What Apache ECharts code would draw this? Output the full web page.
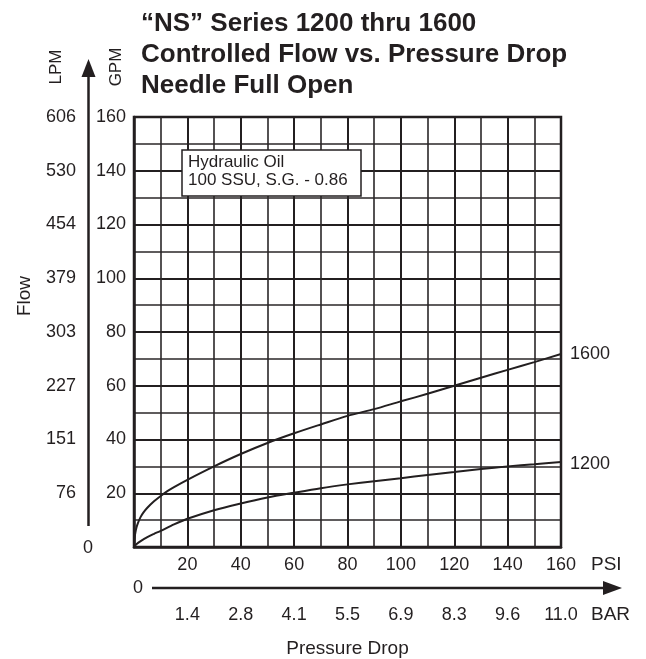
<!DOCTYPE html>
<html>
<head>
<meta charset="utf-8">
<script src="https://cdn.jsdelivr.net/npm/echarts@6/dist/echarts.min.js"></script>
<style>
html,body{margin:0;padding:0;background:#fff;}
#c{width:646px;height:659px;}
</style>
</head>
<body>
<div id="c"></div>
<script>
// ---- data ----
var psi1600 = [0, 0.25, 0.5, 1, 1.5, 2.5, 3.5, 5, 7.5, 10, 12.5, 15, 20, 30, 40, 50, 60, 70, 80, 90, 100, 110, 120, 130, 140, 150, 160];
var gpm1600 = [0, 3.5, 5.3, 7.5, 9, 11.2, 12.8, 14.6, 17, 19, 20.8, 22.3, 25, 30, 34.6, 38.7, 42.3, 45.6, 48.8, 51.3, 54.2, 57, 60, 63, 65.9, 68.8, 71.8];
var psi1200 = [0, 1, 2.5, 5, 7.5, 10, 15, 20, 30, 40, 50, 60, 70, 80, 90, 100, 110, 120, 130, 140, 150, 160];
var gpm1200 = [0, 1.1, 2.2, 3.7, 4.9, 6, 8.4, 10.5, 13.7, 16.2, 18.4, 20.2, 21.9, 23.3, 24.5, 25.6, 26.8, 27.9, 29, 30, 30.8, 31.6];
var psiTicks = [20, 40, 60, 80, 100, 120, 140, 160];
var barTicks = ['1.4', '2.8', '4.1', '5.5', '6.9', '8.3', '9.6', '11.0'];
var gpmTicks = [20, 40, 60, 80, 100, 120, 140, 160];
var lpmTicks = ['76', '151', '227', '303', '379', '454', '530', '606'];
var seriesNames = ['1600', '1200'];

function zip(xs, ys) { return xs.map(function (x, i) { return [x, ys[i]]; }); }

var FONT = 'Liberation Sans';
var INK = '#231f20';
var chart = echarts.init(document.getElementById('c'), null, {renderer: 'canvas'});

var gridLine = {color: INK, width: 2};
var minorLine = {color: '#2a2627', width: 1.6};
var labelFont = {fontFamily: FONT, fontSize: 18, color: INK};

function tickLabel(list) {
  return function (v) { var i = psiTicks.indexOf(v); return i < 0 ? '' : String(list[i]); };
}

chart.setOption({
  backgroundColor: '#fff',
  animation: false,
  title: {
    text: '“NS” Series 1200 thru 1600\nControlled Flow vs. Pressure Drop\nNeedle Full Open',
    left: 136, top: 3,
    textStyle: {fontFamily: FONT, fontSize: 26, fontWeight: 'bold', lineHeight: 31, color: INK}
  },
  grid: {left: 134, right: 85, top: 117, bottom: 112, containLabel: false, outerBoundsMode: 'none',
         show: true, borderColor: INK, borderWidth: 2.5, backgroundColor: 'transparent'},
  xAxis: [{
    // main PSI axis: grid lines and the axis title
    type: 'value', min: 0, max: 160, interval: 20,
    axisLine: {show: true, lineStyle: {color: INK, width: 2.5}},
    axisTick: {show: false},
    minorTick: {show: false, splitNumber: 2},
    splitLine: {show: true, lineStyle: gridLine},
    minorSplitLine: {show: true, lineStyle: minorLine},
    axisLabel: {show: false},
    name: 'Pressure Drop', nameLocation: 'middle', nameGap: 92, nameMoveOverlap: false,
    nameTextStyle: {fontFamily: FONT, fontSize: 19, color: INK}
  }, {
    // PSI tick labels row
    type: 'value', min: 0, max: 160, interval: 20, position: 'bottom', offset: 18,
    axisLine: {show: false}, axisTick: {show: false}, splitLine: {show: false},
    axisLabel: Object.assign({margin: 0, verticalAlign: 'middle', formatter: tickLabel(psiTicks)}, labelFont)
  }, {
    // BAR tick labels row
    type: 'value', min: 0, max: 160, interval: 20, position: 'bottom', offset: 68,
    axisLine: {show: false}, axisTick: {show: false}, splitLine: {show: false},
    axisLabel: Object.assign({margin: 0, verticalAlign: 'middle', formatter: tickLabel(barTicks)}, labelFont),
    name: 'BAR', nameLocation: 'end', nameGap: 30, nameMoveOverlap: false,
    nameTextStyle: {fontFamily: FONT, fontSize: 19, color: INK, verticalAlign: 'middle'}
  }],
  yAxis: [{
    type: 'value', min: 0, max: 160, interval: 20,
    axisLine: {show: true, lineStyle: {color: INK, width: 2.5}},
    axisTick: {show: false},
    minorTick: {show: false, splitNumber: 2},
    splitLine: {show: true, lineStyle: gridLine},
    minorSplitLine: {show: true, lineStyle: minorLine},
    axisLabel: Object.assign({margin: 8, formatter: function (v) { var i = gpmTicks.indexOf(v); return i < 0 ? '' : String(gpmTicks[i]); }}, labelFont)
  }, {
    type: 'value', min: 0, max: 160, interval: 20, position: 'left', offset: 46,
    axisLine: {show: false}, axisTick: {show: false}, splitLine: {show: false},
    axisLabel: Object.assign({margin: 12, formatter: function (v) { var i = gpmTicks.indexOf(v); return i < 0 ? '' : lpmTicks[i]; }}, labelFont)
  }],
  series: [{
    name: seriesNames[0], type: 'line', data: zip(psi1600, gpm1600),
    smooth: 0.3, showSymbol: false, symbol: 'none',
    lineStyle: {color: INK, width: 2}, z: 5,
    endLabel: {show: true, formatter: '{a}', distance: 9, fontFamily: FONT, fontSize: 18, color: INK}
  }, {
    name: seriesNames[1], type: 'line', data: zip(psi1200, gpm1200),
    smooth: 0.3, showSymbol: false, symbol: 'none',
    lineStyle: {color: INK, width: 2}, z: 5,
    endLabel: {show: true, formatter: '{a}', distance: 9, offset: [0, 2], fontFamily: FONT, fontSize: 18, color: INK}
  }],
  graphic: [
    // annotation box
    {type: 'rect', shape: {x: 182, y: 150, width: 179, height: 46}, style: {fill: '#fff', stroke: INK, lineWidth: 1.5}, z: 100},
    {type: 'text', x: 188, y: 153, style: {text: 'Hydraulic Oil\n100 SSU, S.G. - 0.86', fontFamily: FONT, fontSize: 17, lineHeight: 18, fill: INK}, z: 101},
    // LPM arrow axis
    {type: 'line', shape: {x1: 88.5, y1: 526, x2: 88.5, y2: 74}, style: {stroke: INK, lineWidth: 2.5}, z: 100},
    {type: 'polygon', shape: {points: [[81.5, 77], [95.5, 77], [88.5, 59]]}, style: {fill: INK}, z: 100},
    {type: 'text', x: 56, y: 67, rotation: Math.PI / 2, style: {text: 'LPM', fontFamily: FONT, fontSize: 17, fill: INK, align: 'center', verticalAlign: 'middle'}, z: 100},
    {type: 'text', x: 116, y: 67, rotation: Math.PI / 2, style: {text: 'GPM', fontFamily: FONT, fontSize: 17, fill: INK, align: 'center', verticalAlign: 'middle'}, z: 100},
    {type: 'text', x: 25, y: 296, rotation: Math.PI / 2, style: {text: 'Flow', fontFamily: FONT, fontSize: 19, fill: INK, align: 'center', verticalAlign: 'middle'}, z: 100},
    {type: 'text', x: 88, y: 548, style: {text: '0', fontFamily: FONT, fontSize: 18, fill: INK, align: 'center', verticalAlign: 'middle'}, z: 100},
    {type: 'text', x: 591, y: 565, style: {text: 'PSI', fontFamily: FONT, fontSize: 19, fill: INK, align: 'left', verticalAlign: 'middle'}, z: 100},
    // BAR arrow axis
    {type: 'line', shape: {x1: 152, y1: 588, x2: 606, y2: 588}, style: {stroke: INK, lineWidth: 2.5}, z: 100},
    {type: 'polygon', shape: {points: [[603, 581], [603, 595], [622, 588]]}, style: {fill: INK}, z: 100},
    {type: 'text', x: 138, y: 588, style: {text: '0', fontFamily: FONT, fontSize: 18, fill: INK, align: 'center', verticalAlign: 'middle'}, z: 100}
  ]
});
</script>
</body>
</html>
